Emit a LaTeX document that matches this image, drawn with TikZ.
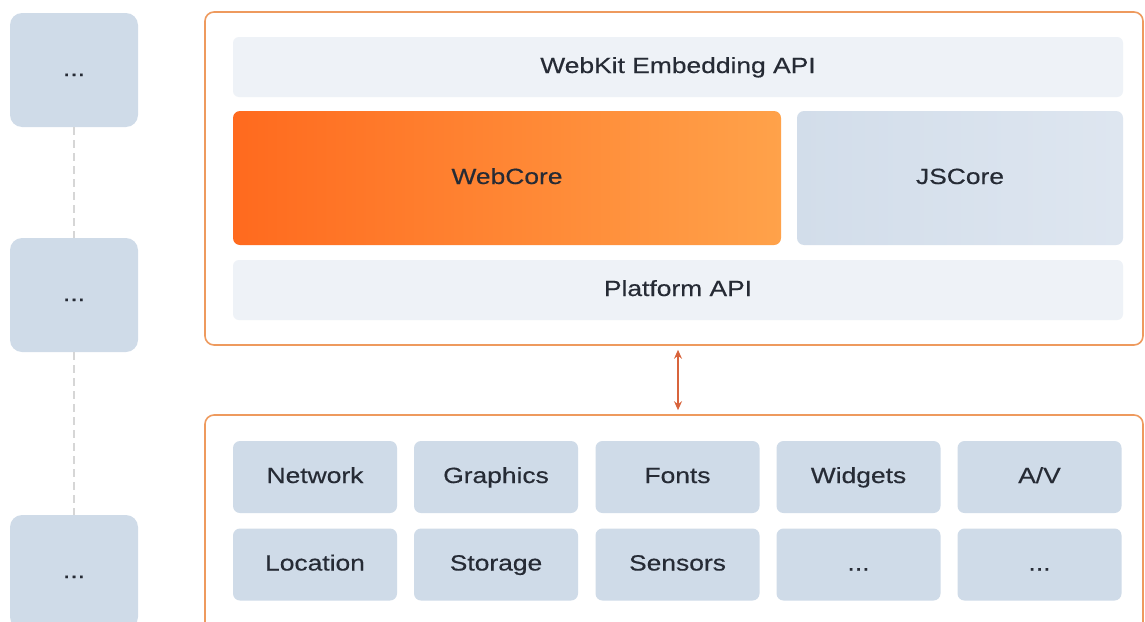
\documentclass[tikz,border=0pt]{standalone}
\usepackage{fontspec}
\setmainfont[FakeStretch=1.2, FakeBold=0.4]{Liberation Sans}
\usetikzlibrary{arrows.meta}

\definecolor{frameorange}{HTML}{EE9A5E}
\definecolor{arrowred}{HTML}{D8643C}
\definecolor{barfill}{HTML}{EEF2F7}
\definecolor{cellfill}{HTML}{CFDBE8}
\definecolor{inktext}{HTML}{262B35}
\definecolor{coreleft}{HTML}{FF6A1E}
\definecolor{coreright}{HTML}{FFA24A}
\definecolor{jsleft}{HTML}{D2DDEA}
\definecolor{jsright}{HTML}{DEE6F0}
\definecolor{dashgray}{HTML}{D6D6D6}

\newcommand\moredots{...}

\tikzset{
  label text/.style={text=inktext, font=\fontsize{22}{26}\selectfont,
                     text height=16pt, text depth=4pt},
  layer/.style={draw=frameorange, line width=1.6pt, rounded corners=9pt, fill=white,
                minimum width=#1},
  bar/.style={label text, fill=barfill, rounded corners=6pt, minimum width=890pt,
              minimum height=60pt},
  cell/.style={label text, fill=cellfill, rounded corners=7pt, minimum width=164pt,
               minimum height=72pt},
  side/.style={label text, fill=cellfill, rounded corners=12pt, minimum width=128pt,
               minimum height=114pt}
}

\begin{document}
\begin{tikzpicture}[x=1pt, y=-1pt]
  \useasboundingbox (0,0) rectangle (1145,621);
  \clip (0,0) rectangle (1145,621);

  % left column
  \node[side] (s1) at (74,70)  {\moredots};
  \node[side] (s2) at (74,295) {\moredots};
  \node[side] (s3) at (74,572) {\moredots};
  \draw[dashgray, dash pattern=on 8pt off 5pt, line width=1.2pt] (s1) -- (s2);
  \draw[dashgray, dash pattern=on 8pt off 5pt, line width=1.2pt] (s2) -- (s3);

  % WebKit
  \node[layer=938pt, minimum height=333pt] (engine) at (674,178.5) {};
  \node[bar] (emb) at (678,67) {WebKit Embedding API};
  \node[label text, left color=coreleft, right color=coreright, rounded corners=7pt,
        minimum width=548pt, minimum height=134pt] (webcore) at (507,178) {WebCore};
  \node[label text, left color=jsleft, right color=jsright, rounded corners=7pt,
        minimum width=326pt, minimum height=134pt] (jscore) at (960,178) {JSCore};
  \node[bar] (platform) at (678,290) {Platform API};

  % port layer
  \node[layer=938pt, minimum height=216pt] (port) at (674,523) {};
  \foreach \name/\txt/\x/\y in {net/Network/315/477, gfx/Graphics/496/477,
      fonts/Fonts/677.5/477, widgets/Widgets/858.5/477, av/A\slash V/1039.5/477,
      loc/Location/315/564.5, store/Storage/496/564.5, sensors/Sensors/677.5/564.5,
      more1/\moredots/858.5/564.5, more2/\moredots/1039.5/564.5}
    \node[cell] (\name) at (\x,\y) {\txt};

  \draw[arrowred, line width=1.3pt, {Stealth[length=9pt,width=8pt,inset=3pt]}-{Stealth[length=9pt,width=8pt,inset=3pt]},
        shorten <=4pt, shorten >=4pt] (engine.south -| platform) -- (port.north -| platform);
\end{tikzpicture}
\end{document}
